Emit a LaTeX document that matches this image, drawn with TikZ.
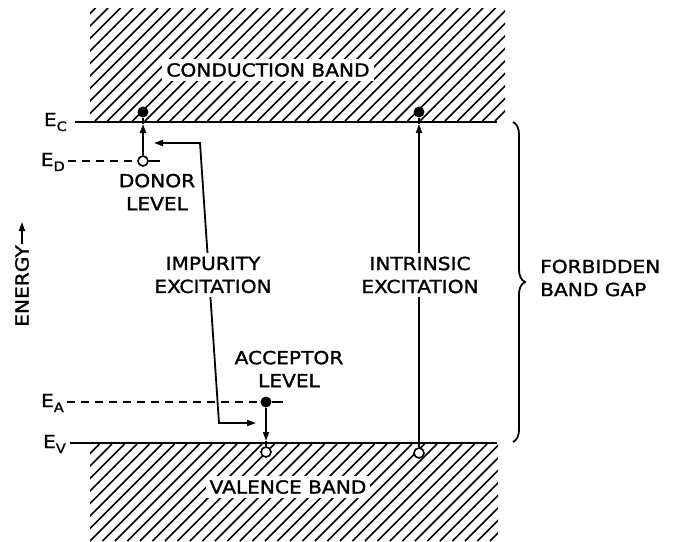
\documentclass[tikz,border=0pt]{standalone}
\usepackage{fontspec}
\setmainfont{DejaVu Sans}[FakeStretch=1.12,FakeBold=1.4]
\usetikzlibrary{positioning,arrows.meta,decorations.pathreplacing,backgrounds}

\newcommand{\lowsub}[1]{\raisebox{-5pt}{\fontsize{13}{13}\selectfont #1}}

\begin{document}
\begin{tikzpicture}[x=1pt,y=-1pt,>={Triangle[length=9pt,width=6pt]},
   lbl/.style={font=\fontsize{18}{23}\selectfont,align=center,inner sep=1pt},
   cover/.style={lbl,fill=white,inner sep=4pt},
   lvl/.style={font=\fontsize{18}{18}\selectfont,inner sep=0pt},
   elec/.style={circle,fill,inner sep=0pt,minimum size=11pt},
   hole/.style={circle,draw,fill=white,line width=1.6pt,inner sep=0pt,minimum size=10pt},
   band/.style={line width=2.4pt},
   hatch/.style={line width=1.5pt},
   conn/.style={line width=1.8pt},
   level/.style={conn,dash pattern=on 8pt off 6pt}]
  \useasboundingbox (0,0) rectangle (674,541);

  % carriers
  \node[elec] (dE) at (143,112) {};
  \node[hole] (dH) at (143,161) {};
  \node[elec] (aE) at (266,402) {};
  \node[hole] (aH) at (266,452) {};
  \node[elec] (iE) at (419,112) {};
  \node[hole] (iH) at (419,453) {};

  % level names
  \node[lvl,anchor=base east] (Ec) at (67,126) {E\lowsub{C}};
  \node[lvl,anchor=base east] (Ed) at (65,166) {E\lowsub{D}};
  \node[lvl,anchor=base east] (Ea) at (64,407) {E\lowsub{A}};
  \node[lvl,anchor=base east] (Ev) at (66,448) {E\lowsub{V}};

  % texts
  \node[cover] (cond) at (268,70) {CONDUCTION BAND};
  \node[cover] (val) at (288,487) {VALENCE BAND};
  \node[lbl] (donor) at (157,192) {DONOR\\LEVEL};
  \node[lbl] (acc) at (289,369) {ACCEPTOR\\LEVEL};
  \node[cover] (imp) at (213,275) {IMPURITY\\EXCITATION};
  \node[cover] (intr) at (420,275) {INTRINSIC\\EXCITATION};
  \coordinate (gapMid) at (526,278);
  \node[lbl,align=left,right=13pt of gapMid] (gap) {FORBIDDEN\\BAND GAP};
  \node[lbl,rotate=90] (energy) at (22,286) {ENERGY};

  % free ends
  \coordinate (cL) at (75,122);  \coordinate (cR) at (497,122);
  \coordinate (vL) at (70,443);  \coordinate (vR) at (497,443);
  \coordinate (dL) at (68,161);  \coordinate (dR) at (160,161);
  \coordinate (aL) at (67,402);  \coordinate (aR) at (283,402);
  \coordinate (dTip) at (143,124);
  \coordinate (iTip) at (419,124);
  \coordinate (aTip) at (266,441);
  \coordinate (pTipT) at (154,143); \coordinate (pT) at (200,143);
  \coordinate (pB) at (219,423);    \coordinate (pTipB) at (256,423);
  \coordinate (gapTop) at (513,122); \coordinate (gapBot) at (513,442);
  \coordinate (enTip) at (22,222);

  \begin{pgfonlayer}{background}
    % hatched bands
    \begin{scope}
      \clip (90,8) rectangle (505,121);
      \foreach \x in {-30,-17.5,...,500}
        \draw[hatch] (\x,121) -- ++(113,-113);
    \end{scope}
    \begin{scope}
      \clip (90,444) rectangle (498,541);
      \foreach \x in {-10,2.5,...,500}
        \draw[hatch] (\x,541) -- ++(97,-97);
    \end{scope}
    \draw[band] (cL) -- (cR);
    \draw[band] (vL) -- (vR);
    % levels
    \draw[level] (dL) -- (dH);
    \draw[conn] (dH) -- (dR);
    \draw[level] (aL) -- (aE);
    \draw[conn] (aE) -- (aR);
    % transitions
    \draw[conn,->] (dH) -- (dTip);
    \draw[conn] (dTip) -- (dE);
    \draw[conn,->] (aE) -- (aTip);
    \draw[conn] (aTip) -- (aH);
    \draw[conn,->] (iH) -- (iTip);
    \draw[conn] (iTip) -- (iE);
    \draw[conn,<->] (pTipT) -- (pT) -- (pB) -- (pTipB);
  \end{pgfonlayer}

  \draw[conn,decorate,decoration={brace,amplitude=12pt}] (gapTop) -- (gapBot);
  \draw[conn,->] (energy.east) -- (enTip);
\end{tikzpicture}
\end{document}
